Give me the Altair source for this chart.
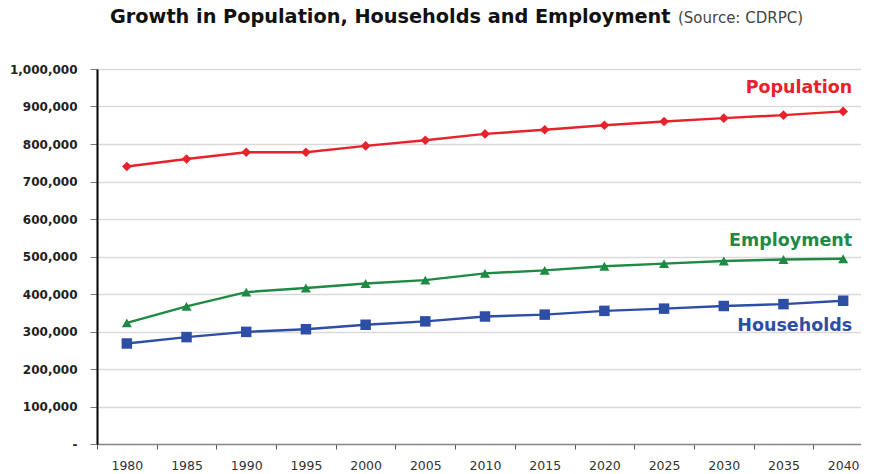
import altair as alt
import pandas as pd

# ---- data ----
years = ["1980", "1985", "1990", "1995", "2000", "2005", "2010",
         "2015", "2020", "2025", "2030", "2035", "2040"]
population = [740000, 760000, 778000, 778000, 795000, 810000, 827000,
              838000, 850000, 860000, 869000, 877000, 887000]
employment = [323000, 367000, 405000, 416000, 428000, 437000, 455000,
              463000, 474000, 481000, 488000, 492000, 494000]
households = [268000, 285000, 299000, 306000, 318000, 327000, 340000,
              345000, 355000, 361000, 368000, 373000, 382000]

series_names = ["Population", "Employment", "Households"]
series_colors = ["#E8222B", "#1E8A44", "#2E4EA5"]
series_shapes = ["diamond", "triangle-up", "square"]
series_sizes = [95, 110, 100]
label_values = [950000, 541000, 315000]

title_text = ["Growth in Population, Households and Employment"]
source_text = ["(Source: CDRPC)"]
y_ticks = list(range(0, 1000001, 100000))

rows = []
for name, vals in zip(series_names, [population, employment, households]):
    for yr, v in zip(years, vals):
        rows.append({"Year": yr, "Value": v, "Series": name})
df = pd.DataFrame(rows)

labels_df = pd.DataFrame({"Series": series_names,
                          "Year": [years[-1]] * 3,
                          "Value": label_values})

x_enc = alt.X(
    "Year:O", sort=years,
    scale=alt.Scale(type="band", paddingInner=0, paddingOuter=0,
                    range=[0, 776]),
    axis=alt.Axis(title=None, labelAngle=0, tickBand="extent", grid=False,
                  domainColor="#8a8a8a", domainWidth=1.5, tickColor="#555",
                  tickSize=5, labelFont="DejaVu Sans", labelFontSize=12.5,
                  labelColor="#333", labelPadding=10),
)
y_enc = alt.Y(
    "Value:Q",
    scale=alt.Scale(domain=[0, 1000000], nice=False),
    axis=alt.Axis(title=None, values=y_ticks, labelOverlap=False,
                  labelExpr="datum.value == 0 ? '-' : format(datum.value, ',')",
                  labelFont="DejaVu Sans", labelFontWeight="bold",
                  labelFontSize=12, labelColor="#222", tickSize=7,
                  tickColor="#777", domainColor="#000", domainWidth=2,
                  gridColor="#d9d9d9", gridWidth=1.5, labelPadding=13),
)
color_enc = alt.Color("Series:N",
                      scale=alt.Scale(domain=series_names, range=series_colors),
                      legend=None)
shape_enc = alt.Shape("Series:N",
                      scale=alt.Scale(domain=series_names, range=series_shapes),
                      legend=None)
size_enc = alt.Size("Series:N",
                    scale=alt.Scale(domain=series_names, range=series_sizes),
                    legend=None)

base = alt.Chart(df)
lines = base.mark_line(strokeWidth=2.5).encode(x=x_enc, y=y_enc, color=color_enc,
                                                detail="Series:N")
points = base.mark_point(filled=True, opacity=1).encode(
    x=x_enc, y=y_enc, color=color_enc, shape=shape_enc, size=size_enc)

labels = alt.Chart(labels_df).mark_text(
    align="right", baseline="middle", dx=9, font="DejaVu Sans",
    fontSize=17.5, fontWeight="bold"
).encode(x=x_enc, y=y_enc, color=color_enc, text="Series:N")

title = alt.Chart(pd.DataFrame({"t": title_text})).mark_text(
    align="left", baseline="middle", font="DejaVu Sans", fontSize=19.3,
    fontWeight="bold", color="#111"
).encode(x=alt.value(13), y=alt.value(-52), text="t:N")

source = alt.Chart(pd.DataFrame({"t": source_text})).mark_text(
    align="left", baseline="middle", font="DejaVu Sans", fontSize=15,
    color="#444"
).encode(x=alt.value(581), y=alt.value(-51), text="t:N")

chart = alt.layer(lines, points, labels, title, source).properties(
    width=764, height=375,
    autosize=alt.AutoSizeParams(type="none"),
    padding={"left": 89, "top": 61, "right": 0, "bottom": 30},
).configure_view(stroke=None)

chart.save("out.html", embed_options={"renderer": "svg", "actions": False})
